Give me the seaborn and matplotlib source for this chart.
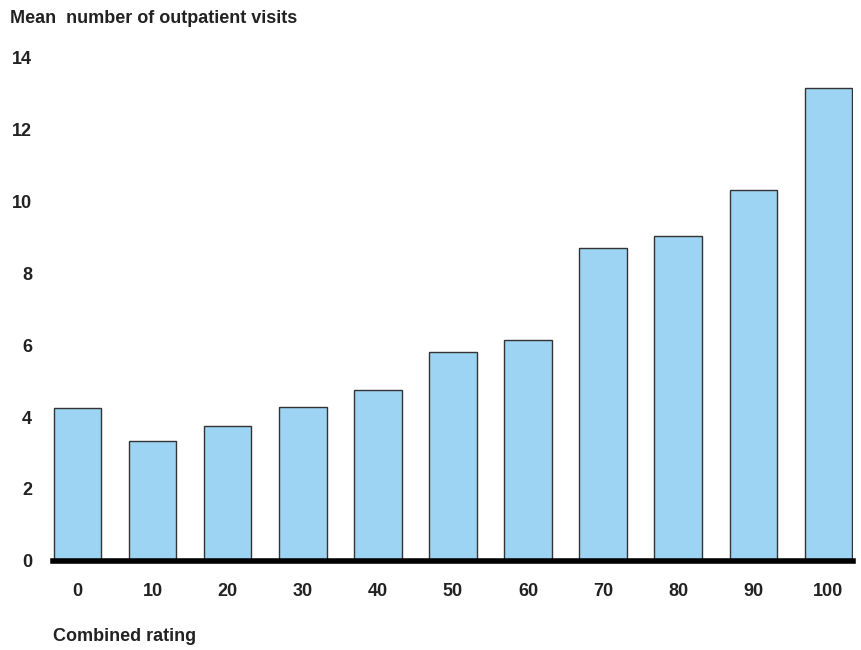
import matplotlib
matplotlib.use('Agg')
import matplotlib.pyplot as plt
import seaborn as sns
import pandas as pd

# Data
ratings = ['0', '10', '20', '30', '40', '50', '60', '70', '80', '90', '100']
mean_visits = [4.25, 3.33, 3.75, 4.28, 4.75, 5.81, 6.14, 8.69, 9.03, 10.31, 13.14]
y_ticks = [0, 2, 4, 6, 8, 10, 12, 14]

sns.set_theme(style='white')
plt.rcParams['font.family'] = ['Liberation Sans', 'DejaVu Sans']

df = pd.DataFrame({'rating': ratings, 'visits': mean_visits})

fig = plt.figure(figsize=(8.62, 6.5), dpi=100)
ax = fig.add_axes([0.0615, 0.137, 0.928, 0.775])

sns.barplot(data=df, x='rating', y='visits', order=ratings, color='#9dd3f3',
            saturation=1, width=0.63, edgecolor='#333333', linewidth=1.0, ax=ax)

ax.set_xlim(-0.33, 10.33)
ax.set_ylim(0, 14)
ax.set_yticks(y_ticks)
ax.set_yticklabels([str(t) for t in y_ticks], fontsize=13, fontweight='bold', color='#222222')
ax.set_xticks(range(len(ratings)))
ax.set_xticklabels(ratings, fontsize=13, fontweight='bold', color='#222222')
ax.tick_params(axis='y', length=0, pad=15)
ax.tick_params(axis='x', length=0, pad=16)

for side in ['top', 'right', 'left']:
    ax.spines[side].set_visible(False)
ax.spines['bottom'].set_linewidth(4)
ax.spines['bottom'].set_color('black')
ax.set_xlabel('')
ax.set_ylabel('')

fig.text(0.012, 0.972, 'Mean  number of outpatient visits', fontsize=13,
         fontweight='bold', color='#222222', va='center', ha='left')
fig.text(0.0615, 0.021, 'Combined rating', fontsize=13,
         fontweight='bold', color='#222222', va='center', ha='left')

fig.savefig('out.png', dpi=100)
